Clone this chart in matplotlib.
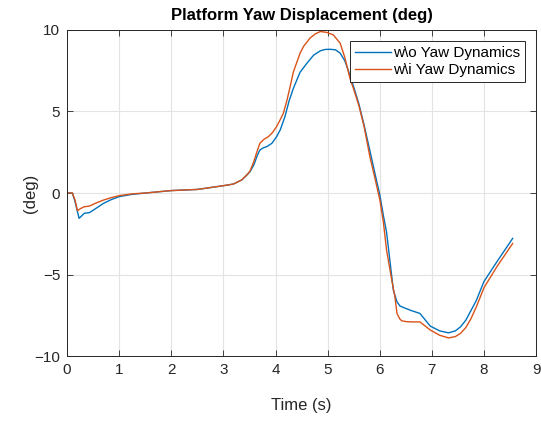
import matplotlib
matplotlib.use('Agg')
import matplotlib.pyplot as plt

"""Platform yaw displacement, with and without yaw dynamics"""

# values
time_wo = [0.0, 0.1, 0.15, 0.23, 0.28, 0.33, 0.43, 0.55, 0.7, 0.85, 1.0, 1.25,
           1.5, 2.0, 2.5, 3.0, 3.19, 3.35, 3.45, 3.51, 3.58, 3.65, 3.7, 3.77,
           3.83, 3.93, 4.02, 4.09, 4.18, 4.26, 4.34, 4.47, 4.6, 4.73, 4.86,
           4.95, 5.05, 5.15, 5.24, 5.33, 5.43, 5.49, 5.6, 5.7, 5.81, 5.9, 6.0,
           6.07, 6.13, 6.2, 6.26, 6.33, 6.39, 6.48, 6.6, 6.77, 6.97, 7.15, 7.32,
           7.45, 7.55, 7.65, 7.75, 7.85, 8.0, 8.25, 8.55]
yaw_wo = [0.0, 0.0, -0.5, -1.55, -1.4, -1.24, -1.2, -0.95, -0.63, -0.4, -0.22,
          -0.08, 0.0, 0.15, 0.22, 0.45, 0.55, 0.8, 1.1, 1.31, 1.7, 2.3, 2.64,
          2.78, 2.84, 3.05, 3.45, 3.87, 4.68, 5.65, 6.4, 7.4, 7.95, 8.45, 8.72,
          8.8, 8.81, 8.78, 8.57, 8.1, 7.2, 6.6, 5.45, 4.15, 2.6, 1.3, -0.1,
          -1.4, -2.4, -4.3, -5.95, -6.67, -6.93, -7.05, -7.2, -7.38, -8.16,
          -8.45, -8.57, -8.45, -8.2, -7.8, -7.2, -6.6, -5.42, -4.2, -2.78]

time_wi = [0.0, 0.1, 0.15, 0.2, 0.26, 0.33, 0.43, 0.55, 0.7, 0.85, 1.0, 1.25,
           1.5, 2.0, 2.5, 3.0, 3.19, 3.35, 3.45, 3.51, 3.58, 3.65, 3.7, 3.78,
           3.86, 3.94, 4.02, 4.09, 4.15, 4.22, 4.28, 4.34, 4.47, 4.54, 4.66,
           4.76, 4.86, 4.98, 5.11, 5.24, 5.33, 5.43, 5.49, 5.6, 5.7, 5.81, 5.9,
           6.0, 6.07, 6.13, 6.23, 6.29, 6.33, 6.38, 6.42, 6.5, 6.6, 6.77, 6.97,
           7.15, 7.32, 7.45, 7.55, 7.65, 7.75, 7.85, 8.0, 8.25, 8.55]
yaw_wi = [0.0, 0.0, -0.4, -1.08, -0.95, -0.84, -0.8, -0.62, -0.43, -0.28,
          -0.16, -0.05, 0.0, 0.15, 0.22, 0.45, 0.55, 0.8, 1.12, 1.35, 1.9, 2.6,
          3.05, 3.3, 3.45, 3.7, 4.07, 4.5, 4.89, 5.7, 6.52, 7.4, 8.57, 9.0,
          9.49, 9.75, 9.9, 9.85, 9.69, 9.18, 8.3, 7.0, 6.45, 5.35, 4.05, 2.23,
          1.0, -0.4, -1.8, -3.5, -5.34, -6.36, -7.38, -7.7, -7.83, -7.88, -7.9,
          -7.9, -8.4, -8.72, -8.88, -8.8, -8.6, -8.25, -7.7, -7.0, -5.8, -4.5,
          -3.09]

TICK_COLOR = '#262626'


def plot_data() -> None:
    plt.rcParams['font.family'] = ['Liberation Sans', 'DejaVu Sans']
    fig = plt.figure(figsize=(5.41, 4.21), dpi=100)
    ax = fig.add_axes([0.124, 0.154, 0.867, 0.775])

    ax.plot(time_wo, yaw_wo, color='#0072BD', lw=1.0, label='w\\o Yaw Dynamics')
    ax.plot(time_wi, yaw_wi, color='#D95319', lw=1.0, label='w\\i Yaw Dynamics')

    ax.set_xlim(0, 9)
    ax.set_ylim(-10, 10)
    ax.set_xticks(range(0, 10))
    ax.set_yticks([-10, -5, 0, 5, 10])
    ax.grid(True, color='#e3e3e3', lw=0.8)
    ax.set_axisbelow(True)
    ax.tick_params(direction='in', top=True, right=True, length=4, width=0.6,
                   colors=TICK_COLOR, labelsize=11, pad=5)
    for spine in ax.spines.values():
        spine.set_color(TICK_COLOR)
        spine.set_linewidth(0.7)

    ax.set_title('Platform Yaw Displacement (deg)', fontsize=12, fontweight='bold', pad=7)
    ax.set_xlabel('Time (s)', fontsize=12, color=TICK_COLOR, labelpad=15)
    ax.set_ylabel('(deg)', fontsize=12, color=TICK_COLOR, labelpad=-3)

    leg = ax.legend(loc='upper right', fontsize=11, fancybox=False, framealpha=1,
                    edgecolor=TICK_COLOR, handlelength=2.4, handletextpad=0.1,
                    borderpad=0.3, labelspacing=0.2, borderaxespad=0.75)
    leg.get_frame().set_linewidth(0.7)

    fig.savefig('out.png', dpi=100)


def main():
    plot_data()


if __name__ == '__main__':
    main()
